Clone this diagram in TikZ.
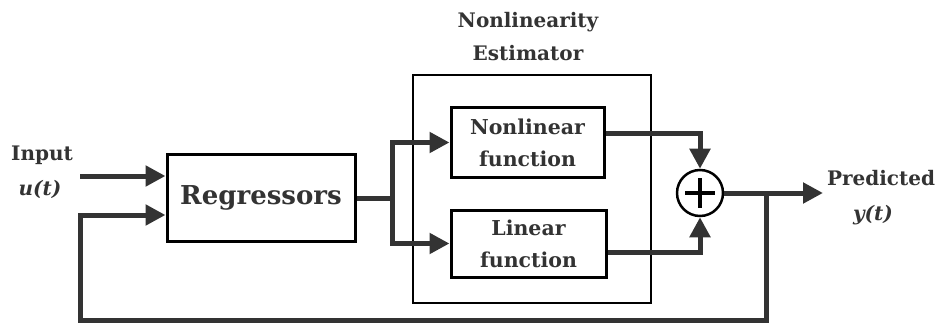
\documentclass[tikz,border=0pt]{standalone}
\usepackage{fontspec}
\setmainfont{DejaVu Serif}
\usetikzlibrary{arrows.meta}
\definecolor{wirecol}{RGB}{51,51,51}
\tikzset{every picture/.style={line width=0.75pt}}
\tikzset{
  blockbox/.style={draw=black, line width=3pt, inner sep=0pt, align=center, text=wirecol,
    font=\bfseries\fontsize{20.5}{32}\selectfont},
  wire/.style={draw=wirecol, line width=5pt},
  arrowwire/.style={wire, -{Triangle[length=20pt,width=20pt]}},
  lbl/.style={text=wirecol, inner sep=0pt, font=\bfseries\fontsize{20}{24}\selectfont},
  lblit/.style={lbl, font=\bfseries\itshape\fontsize{20}{24}\selectfont},
}

\begin{document}
\begin{tikzpicture}[x=1pt,y=1pt,yscale=-1,xscale=1]
	\useasboundingbox (0,0) rectangle (941,323);

	% Estimator frame
	\node [draw=black, line width=1.2pt, minimum width=238pt, minimum height=228pt] (est) at (532,189) {};
	% Blocks
	\node [blockbox, minimum width=188pt, minimum height=87pt, font=\bfseries\fontsize{26}{30}\selectfont] (reg) at (261,198) {Regressors};
	\node [blockbox, minimum width=153pt, minimum height=69pt] (nl) at (527.5,142.5) {Nonlinear\\function};
	\node [blockbox, minimum width=155pt, minimum height=67pt] (lin) at (528.5,243.5) {Linear\\function};
	% Summing junction
	\node [draw=black, circle, line width=2.5pt, minimum size=46pt, inner sep=0pt] (sum) at (700,193) {};
	\draw [draw=black, line width=4pt] ([xshift=-15pt]sum.center) -- ([xshift=15pt]sum.center);
	\draw [draw=black, line width=4pt] ([yshift=-15pt]sum.center) -- ([yshift=15pt]sum.center);

	% Coordinates
	\coordinate (in) at (80,176);
	\coordinate (split) at (392,198);
	\coordinate (branch) at (766,193);
	\coordinate (out) at (823,193);
	\coordinate (fb) at (80,320);

	% Connectors (yshift follows yscale=-1: positive is down)
	\draw [arrowwire] (in) -- (in -| reg.west);
	\draw [wire] (reg.east) -- (split);
	\draw [arrowwire] (split) |- (nl.west);
	\draw [arrowwire] (split) |- (lin.west);
	\draw [arrowwire] ([yshift=-9pt]nl.east) -| (sum.north);
	\draw [arrowwire] ([yshift=8.5pt]lin.east) -| (sum.south);
	\draw [arrowwire] (sum.east) -- (out);
	\draw [arrowwire] (branch) |- (fb) |- ([yshift=17pt]reg.west);

	% Labels
	\node [lbl] (inlbl) at (42,155) {Input};
	\node [lblit] (ulbl) at (40,189) {u(t)};
	\node [lbl] (predlbl) at (881,178) {Predicted};
	\node [lblit] (ylbl) at (873,215) {y(t)};
	\node [lbl] (estlbl) at (528,22) {Nonlinearity};
	\node [lbl] (estlbl2) at (528,53) {Estimator};
\end{tikzpicture}
\end{document}
